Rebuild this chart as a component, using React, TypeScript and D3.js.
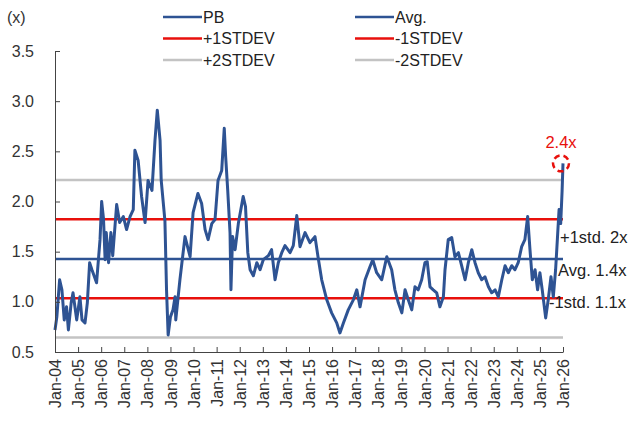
import React, { useEffect, useRef } from 'react'
import * as d3 from 'd3'

// decimal year of each reading, and P/B multiple
const dateYears = [
  2004.0, 2004.08, 2004.2, 2004.3, 2004.4, 2004.5, 2004.58, 2004.7, 2004.78, 2004.94,
  2005.08, 2005.17, 2005.3, 2005.4, 2005.5, 2005.6, 2005.8, 2005.95,
  2006.02, 2006.1, 2006.17, 2006.22, 2006.32, 2006.42, 2006.5, 2006.67, 2006.8, 2006.96,
  2007.1, 2007.25, 2007.39, 2007.46, 2007.6, 2007.75, 2007.9,
  2008.03, 2008.2, 2008.33, 2008.43, 2008.55, 2008.6, 2008.76, 2008.83, 2008.9,
  2009.0, 2009.11, 2009.2, 2009.23, 2009.41, 2009.63, 2009.85, 2009.98,
  2010.19, 2010.35, 2010.5, 2010.63, 2010.79, 2010.93,
  2011.06, 2011.22, 2011.33, 2011.39, 2011.48, 2011.58, 2011.62, 2011.69, 2011.8, 2011.94,
  2012.15, 2012.25, 2012.35, 2012.45, 2012.59, 2012.74, 2012.88,
  2013.02, 2013.24, 2013.38, 2013.53, 2013.67, 2013.82, 2013.96,
  2014.18, 2014.32, 2014.47, 2014.61, 2014.83,
  2015.04, 2015.26, 2015.39, 2015.55, 2015.77, 2015.98,
  2016.2, 2016.34, 2016.49, 2016.7, 2016.92,
  2017.07, 2017.21, 2017.43, 2017.64, 2017.76, 2017.93,
  2018.15, 2018.37, 2018.58, 2018.72, 2018.87,
  2019.02, 2019.16, 2019.3, 2019.45, 2019.59, 2019.73, 2019.88,
  2020.02, 2020.12, 2020.24, 2020.38, 2020.53, 2020.67, 2020.82, 2020.89,
  2021.03, 2021.18, 2021.32, 2021.47, 2021.61, 2021.76, 2021.9,
  2022.05, 2022.19, 2022.33, 2022.48, 2022.62, 2022.77, 2022.91,
  2023.06, 2023.2, 2023.35, 2023.49, 2023.63, 2023.78, 2023.92,
  2024.06, 2024.21, 2024.35, 2024.47, 2024.57, 2024.67, 2024.79, 2024.9,
  2025.0, 2025.1, 2025.25, 2025.36, 2025.48, 2025.58, 2025.68, 2025.77, 2025.83, 2025.9,
  2025.96, 2026.0
]
const pbValues = [
  0.72, 0.85, 1.22, 1.12, 0.82, 0.95, 0.72, 0.99, 1.09, 0.82,
  1.05, 0.82, 0.79, 0.99, 1.39, 1.32, 1.19, 1.62,
  2.0, 1.83, 1.42, 1.69, 1.39, 1.69, 1.46, 1.97, 1.79, 1.85,
  1.72, 1.85, 1.92, 2.51, 2.41, 2.05, 1.79,
  2.21, 2.11, 2.61, 2.91, 2.61, 2.21, 1.81, 1.12, 0.67,
  0.85, 0.92, 1.05, 0.82, 1.22, 1.65, 1.45, 1.89,
  2.08, 1.98, 1.72, 1.62, 1.78, 1.82,
  2.21, 2.31, 2.73, 2.45, 2.11, 1.69, 1.12, 1.65, 1.52, 1.78,
  2.05, 1.95, 1.49, 1.32, 1.26, 1.39, 1.32,
  1.42, 1.46, 1.52, 1.22, 1.39, 1.49, 1.56,
  1.49, 1.56, 1.86, 1.55, 1.69,
  1.59, 1.65, 1.45, 1.22, 1.02, 0.89,
  0.79, 0.69, 0.79, 0.92, 1.02,
  1.12, 0.95, 1.22, 1.35, 1.42, 1.29,
  1.22, 1.45, 1.32, 1.12, 0.99,
  0.89, 1.12, 1.02, 0.92, 1.15, 1.12, 1.22,
  1.39, 1.4, 1.15, 1.12, 1.09, 0.95, 1.05, 1.32,
  1.62, 1.64, 1.45, 1.49, 1.36, 1.22, 1.39,
  1.52, 1.39, 1.29, 1.22, 1.25, 1.15, 1.09,
  1.12, 1.05, 1.22, 1.36, 1.29, 1.36, 1.32,
  1.39, 1.55, 1.62, 1.85, 1.52, 1.22, 1.32, 1.12,
  1.29, 1.12, 0.84, 1.02, 1.25, 1.05, 1.32, 1.68, 1.92, 1.78,
  2.1, 2.38
]

const bandKeys = ['+2STDEV', '+1STDEV', 'Avg.', '-1STDEV', '-2STDEV']
const bandValues = [2.215, 1.823, 1.427, 1.035, 0.645]

const legendLabels = ['PB', 'Avg.', '+1STDEV', '-1STDEV', '+2STDEV', '-2STDEV']
const yTicks = [0.5, 1.0, 1.5, 2.0, 2.5, 3.0, 3.5]
const xYears = d3.range(2004, 2027)

const sideNotes = ['+1std. 2x', 'Avg. 1.4x', '-1std. 1.1x']
const sideNoteValues = [1.823, 1.427, 1.035]
const lastLabel = '2.4x'

const BLUE = '#2e5393'
const RED = '#e8100c'
const GREY = '#c3c3c3'
const FONT = '"Liberation Sans", Arial, sans-serif'

const colorOf = (k: string) =>
  k === 'PB' || k === 'Avg.' ? BLUE : k.includes('1STDEV') ? RED : GREY

const PbBandChart = () => {
  const ref = useRef<SVGSVGElement>(null)

  useEffect(() => {
    const width = 633
    const height = 421
    const left = 55
    const right = 563
    const top = 51
    const bottom = 352

    const svg = d3.select(ref.current)
    svg.selectAll('*').remove()
    svg.attr('width', width).attr('height', height)
      .attr('font-family', FONT)

    svg.append('rect').attr('width', width).attr('height', height).attr('fill', '#fff')

    const x = d3.scaleLinear().domain([2004, 2026]).range([left, right])
    const y = d3.scaleLinear().domain([0.5, 3.5]).range([bottom, top])

    // std-dev bands and average
    svg.append('g')
      .selectAll('line')
      .data(bandKeys)
      .join('line')
      .attr('x1', x(2004))
      .attr('x2', x(2026))
      .attr('y1', (d, i) => y(bandValues[i]))
      .attr('y2', (d, i) => y(bandValues[i]))
      .attr('stroke', d => colorOf(d))
      .attr('stroke-width', 2.5)

    const line = d3.line<number>()
      .x((d, i) => x(dateYears[i]))
      .y(d => y(d))

    svg.append('path')
      .datum(pbValues)
      .attr('d', line)
      .attr('fill', 'none')
      .attr('stroke', BLUE)
      .attr('stroke-width', 3)
      .attr('stroke-linejoin', 'round')

    // axes
    const xAxis = svg.append('g')
      .attr('transform', `translate(0,${bottom})`)
      .call(d3.axisBottom(x).tickValues(xYears).tickSizeInner(-5).tickSizeOuter(0)
        .tickFormat(d => `Jan-${String(d).slice(2)}`))
    xAxis.selectAll('text')
      .attr('transform', 'rotate(-90)')
      .attr('x', -7)
      .attr('y', 0)
      .attr('dy', '0.35em')
      .attr('text-anchor', 'end')
      .attr('font-size', 16)
      .attr('fill', '#333')

    const yAxis = svg.append('g')
      .attr('transform', `translate(${left},0)`)
      .call(d3.axisLeft(y).tickValues(yTicks).tickSizeInner(-5).tickSizeOuter(0)
        .tickFormat(d3.format('.1f')))
    yAxis.selectAll('text')
      .attr('x', -21)
      .attr('font-size', 16)
      .attr('fill', '#333')

    svg.selectAll('.domain, .tick line').attr('stroke', '#444')

    svg.append('text')
      .attr('x', 7).attr('y', 17).attr('dy', '0.35em')
      .attr('font-size', 16).attr('fill', '#333')
      .text('(x)')

    // legend, two columns
    const legend = svg.append('g')
      .selectAll('g')
      .data(legendLabels)
      .join('g')
      .attr('transform', (d, i) => `translate(${i % 2 === 0 ? 163 : 355},${17 + Math.floor(i / 2) * 21.5})`)
    legend.append('line')
      .attr('x1', 0).attr('x2', 39)
      .attr('stroke', d => colorOf(d))
      .attr('stroke-width', 2.5)
    legend.append('text')
      .attr('x', 40).attr('dy', '0.35em')
      .attr('font-size', 16).attr('fill', '#222')
      .text(d => d)

    // notes on the right side
    svg.append('g')
      .selectAll('text')
      .data(sideNotes)
      .join('text')
      .attr('x', (d, i) => [560, 558, 549][i])
      .attr('y', (d, i) => y(sideNoteValues[i]) + [18, 11, 4][i])
      .attr('dy', '0.35em')
      .attr('font-size', 16.5)
      .attr('fill', '#222')
      .text(d => d)

    const lastX = x(dateYears[dateYears.length - 1]) - 2
    const lastY = y(pbValues[pbValues.length - 1])
    svg.append('circle')
      .attr('cx', lastX).attr('cy', lastY).attr('r', 8)
      .attr('fill', 'none')
      .attr('stroke', RED)
      .attr('stroke-width', 2.5)
      .attr('stroke-dasharray', '6,4')
    svg.append('text')
      .attr('x', lastX).attr('y', lastY - 21).attr('dy', '0.35em')
      .attr('text-anchor', 'middle')
      .attr('font-size', 16.5)
      .attr('fill', RED)
      .text(lastLabel)
  }, [])

  return <svg ref={ref} style={{ position: 'absolute', left: 0, top: 0 }} />
}

export default function App() {
  return <PbBandChart />
}
